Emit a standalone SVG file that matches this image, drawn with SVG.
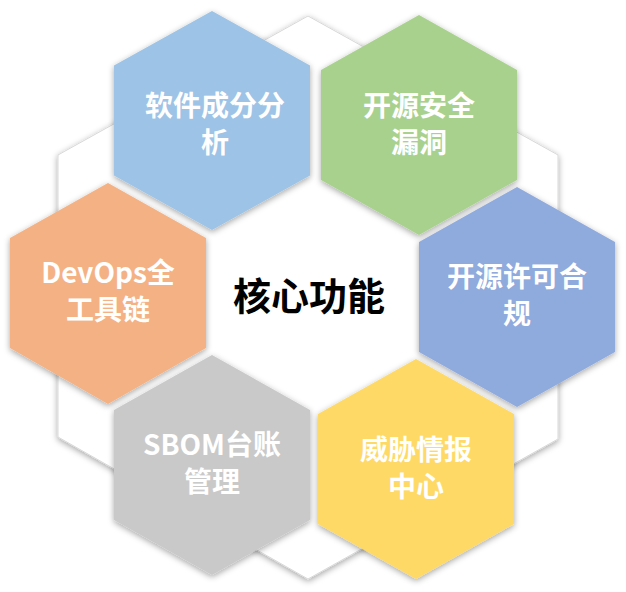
<svg xmlns="http://www.w3.org/2000/svg" width="626" height="592" viewBox="0 0 626 592">
<defs>
<filter id="sh" x="-20%" y="-20%" width="140%" height="140%">
<feDropShadow dx="0" dy="2" stdDeviation="3" flood-color="#000" flood-opacity="0.35"/>
</filter>
</defs>
<style>
.hex{filter:url(#sh);}
.lbl{font-family:"Noto Sans CJK SC","Microsoft YaHei",sans-serif;font-weight:bold;font-size:28px;fill:#fff;text-anchor:middle;}
.core{font-family:"Noto Sans CJK SC","Microsoft YaHei",sans-serif;font-weight:bold;font-size:38px;fill:#000;text-anchor:middle;}
</style>
<rect width="626" height="592" fill="#fff"/>
<g id="core">
<polygon class="hex" points="308,16 558,155 558,439 308,579 58,437 58,155" fill="#fff" stroke="#d9d9d9" stroke-width="1"/>
<text class="core" x="309" y="310">核心功能</text>
</g>
<g id="connectors"></g>
<g id="sca">
<polygon class="hex" points="212,11 310,65.5 310,175.5 212,230 114,175.5 114,65.5" fill="#9dc3e6"/>
<text class="lbl" x="215" y="116">软件成分分<tspan x="215" dy="37">析</tspan></text>
</g>
<g id="vuln">
<polygon class="hex" points="419,15 517,70 517,180 419,235 321,180 321,70" fill="#a9d18e"/>
<text class="lbl" x="419" y="116">开源安全<tspan x="419" dy="37">漏洞</tspan></text>
</g>
<g id="license">
<polygon class="hex" points="517,187 615,242 615,352 517,407 419,352 419,242" fill="#8faadc"/>
<text class="lbl" x="517" y="287">开源许可合<tspan x="517" dy="37">规</tspan></text>
</g>
<g id="devops">
<polygon class="hex" points="108,183 206,238 206,348 108,404 10,348 10,238" fill="#f4b183"/>
<text class="lbl" x="108" y="283">DevOps全<tspan x="108" dy="37">工具链</tspan></text>
</g>
<g id="sbom">
<polygon class="hex" points="212,355 310,410 310,520 212,575 114,520 114,410" fill="#c9c9c9"/>
<text class="lbl" x="212" y="455">SBOM台账<tspan x="212" dy="37">管理</tspan></text>
</g>
<g id="threat">
<polygon class="hex" points="416,359 514,414 514,524 416,579 318,524 318,414" fill="#ffd966"/>
<text class="lbl" x="416" y="460">威胁情报<tspan x="416" dy="37">中心</tspan></text>
</g>
</svg>
